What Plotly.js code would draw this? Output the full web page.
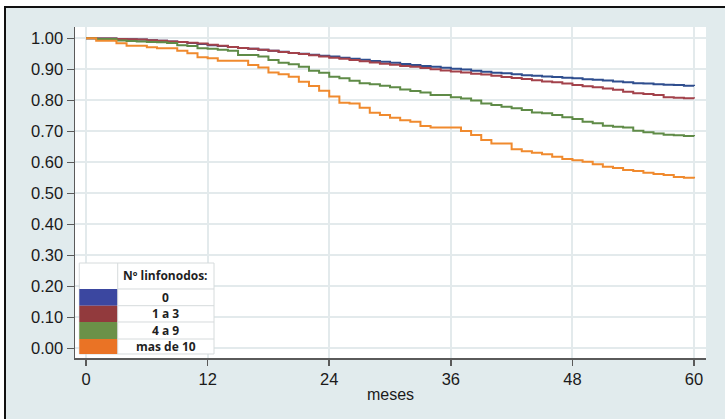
<!DOCTYPE html>
<html>
<head>
<meta charset="utf-8">
<script src="https://cdn.plot.ly/plotly-3.0.1.min.js"></script>
<style>
  html, body { margin: 0; padding: 0; background: #ffffff; }
  #wrap { position: relative; width: 725px; height: 419px; overflow: hidden; }
  #chart { position: absolute; left: 0; top: 0; width: 725px; height: 419px; }
  .edge { position: absolute; pointer-events: none; }
</style>
</head>
<body>
<div id="wrap">
  <div id="chart"></div>
  <div class="edge" style="left:0;top:0;width:4px;height:419px;background:#fff;"></div>
  <div class="edge" style="left:0;top:0;width:725px;height:6px;background:#fff;"></div>
  <div class="edge" style="left:4px;top:6px;width:2px;height:413px;background:#111;"></div>
  <div class="edge" style="left:4px;top:6px;width:721px;height:2px;background:#111;"></div>
</div>
<script>
// months 0..60
const months = [0,1,2,3,4,5,6,7,8,9,10,11,12,13,14,15,16,17,18,19,20,21,22,23,24,25,26,27,28,29,30,
  31,32,33,34,35,36,37,38,39,40,41,42,43,44,45,46,47,48,49,50,51,52,53,54,55,56,57,58,59,60];

const groupNames = ["0", "1 a 3", "4 a 9", "mas de 10"];

const surv0 = [1.000,0.999,0.999,0.998,0.997,0.996,0.994,0.992,0.990,0.988,0.985,0.982,0.978,0.975,0.972,0.969,
  0.966,0.963,0.960,0.957,0.953,0.950,0.947,0.944,0.941,0.937,0.934,0.931,0.927,0.924,0.921,0.917,0.914,0.911,
  0.908,0.905,0.902,0.899,0.895,0.892,0.889,0.887,0.884,0.881,0.879,0.877,0.875,0.873,0.871,0.868,0.866,0.864,
  0.861,0.858,0.855,0.854,0.852,0.850,0.849,0.847,0.846];

const surv1a3 = [1.000,0.999,0.999,0.998,0.997,0.996,0.994,0.992,0.990,0.988,0.986,0.983,0.979,0.976,0.972,0.969,
  0.966,0.963,0.960,0.956,0.953,0.949,0.945,0.941,0.937,0.934,0.930,0.926,0.922,0.918,0.915,0.911,0.908,0.904,
  0.900,0.896,0.893,0.890,0.886,0.883,0.879,0.875,0.872,0.869,0.865,0.861,0.858,0.854,0.849,0.845,0.842,0.838,
  0.834,0.828,0.823,0.820,0.817,0.810,0.808,0.807,0.806];

const surv4a9 = [1.000,0.998,0.998,0.993,0.991,0.990,0.988,0.987,0.985,0.978,0.975,0.968,0.966,0.963,0.960,0.946,
  0.946,0.941,0.930,0.921,0.916,0.908,0.895,0.889,0.876,0.871,0.863,0.855,0.852,0.847,0.842,0.835,0.830,0.825,
  0.817,0.817,0.810,0.806,0.799,0.790,0.785,0.779,0.774,0.769,0.761,0.758,0.753,0.745,0.740,0.731,0.726,0.718,
  0.715,0.712,0.702,0.697,0.693,0.689,0.687,0.685,0.684];

const survMas10 = [1.000,0.992,0.992,0.984,0.976,0.976,0.971,0.968,0.968,0.960,0.952,0.939,0.936,0.928,0.928,0.928,
  0.914,0.906,0.890,0.884,0.876,0.860,0.846,0.831,0.812,0.792,0.790,0.776,0.760,0.753,0.744,0.736,0.731,0.717,
  0.712,0.712,0.712,0.701,0.688,0.672,0.661,0.661,0.642,0.636,0.631,0.626,0.618,0.611,0.607,0.602,0.594,0.586,
  0.582,0.575,0.572,0.566,0.562,0.559,0.553,0.550,0.548];

const xTicks = [0, 12, 24, 36, 48, 60];
const yTicks = [0, 0.1, 0.2, 0.3, 0.4, 0.5, 0.6, 0.7, 0.8, 0.9, 1.0];
const yTickText = ["0.00","0.10","0.20","0.30","0.40","0.50","0.60","0.70","0.80","0.90","1.00"];

const lineColors = ["#2f4e8e", "#a3424b", "#5f8b47", "#f08a2e"];
const swatchColors = ["#3b47a0", "#923a3d", "#6b9148", "#ea7325"];
const series = [surv0, surv1a3, surv4a9, survMas10];

const traces = series.map((ys, i) => ({
  x: months, y: ys, type: "scatter", mode: "lines",
  line: {shape: "hv", color: lineColors[i], width: 2},
  name: groupNames[i], hoverinfo: "skip", showlegend: false
}));

// Legend table geometry (paper coords)
const L = {x0: 0.0068, xs: 0.0677, x1: 0.2203, yTop: 0.287, yHead: 0.2085,
  rows: [0.2085, 0.158, 0.1088, 0.0574, 0.0121]};
const shapes = [];
const annotations = [];
const borderCol = "#d6dbdc";
const legFont = {family: "Open Sans, Liberation Sans, sans-serif", size: 12, color: "#1f1f1f"};
shapes.push({type: "rect", xref: "paper", yref: "paper", x0: L.x0, x1: L.x1, y0: L.rows[4], y1: L.yTop,
  fillcolor: "#ffffff", line: {color: borderCol, width: 1}, layer: "above"});
for (let i = 0; i < 4; i++) {
  shapes.push({type: "rect", xref: "paper", yref: "paper", x0: L.x0, x1: L.xs, y0: L.rows[i+1], y1: L.rows[i],
    fillcolor: swatchColors[i], line: {width: 0}, layer: "above"});
  shapes.push({type: "line", xref: "paper", yref: "paper", x0: L.xs, x1: L.x1, y0: L.rows[i], y1: L.rows[i],
    line: {color: borderCol, width: 1}, layer: "above"});
  annotations.push({xref: "paper", yref: "paper", x: (L.xs + L.x1) / 2, y: (L.rows[i] + L.rows[i+1]) / 2,
    text: "<b>" + groupNames[i] + "</b>", showarrow: false, xanchor: "center", yanchor: "middle",
    font: legFont});
}
shapes.push({type: "line", xref: "paper", yref: "paper", x0: L.xs, x1: L.xs, y0: L.rows[4], y1: L.yTop,
  line: {color: borderCol, width: 1}, layer: "above"});
annotations.push({xref: "paper", yref: "paper", x: (L.xs + L.x1) / 2, y: (L.yTop + L.yHead) / 2,
  text: "<b>Nº linfonodos:</b>", showarrow: false, xanchor: "center", yanchor: "middle",
  font: legFont});

const layout = {
  width: 725, height: 419,
  margin: {l: 75, r: 19, t: 27, b: 61},
  paper_bgcolor: "#e1ebed",
  plot_bgcolor: "#ffffff",
  font: {family: "Liberation Sans, Arial, sans-serif", size: 16, color: "#1a1a1a"},
  xaxis: {
    range: [-1.09, 61.18], tickvals: xTicks, ticktext: xTicks.map(String),
    showgrid: true, gridcolor: "#e3eaec", gridwidth: 2,
    zeroline: false, showline: true, linecolor: "#5a5a5a", linewidth: 1.5,
    ticks: "outside", ticklen: 6, tickcolor: "#5a5a5a", tickwidth: 1.5,
    tickfont: {size: 16.5, color: "#1a1a1a"},
    title: {text: "meses", font: {size: 16, color: "#1a1a1a"}, standoff: 1}
  },
  yaxis: {
    range: [-0.0313, 1.0365], tickvals: yTicks, ticktext: yTickText,
    showgrid: true, gridcolor: "#e3eaec", gridwidth: 2,
    zeroline: false, showline: true, linecolor: "#5a5a5a", linewidth: 1.5,
    ticks: "outside", ticklen: 7, tickcolor: "#5a5a5a", tickwidth: 1.5,
    tickfont: {size: 16.5, color: "#1a1a1a"}
  },
  shapes: shapes,
  annotations: annotations,
  showlegend: false
};

Plotly.newPlot("chart", traces, layout, {displayModeBar: false, staticPlot: true});
</script>
</body>
</html>
